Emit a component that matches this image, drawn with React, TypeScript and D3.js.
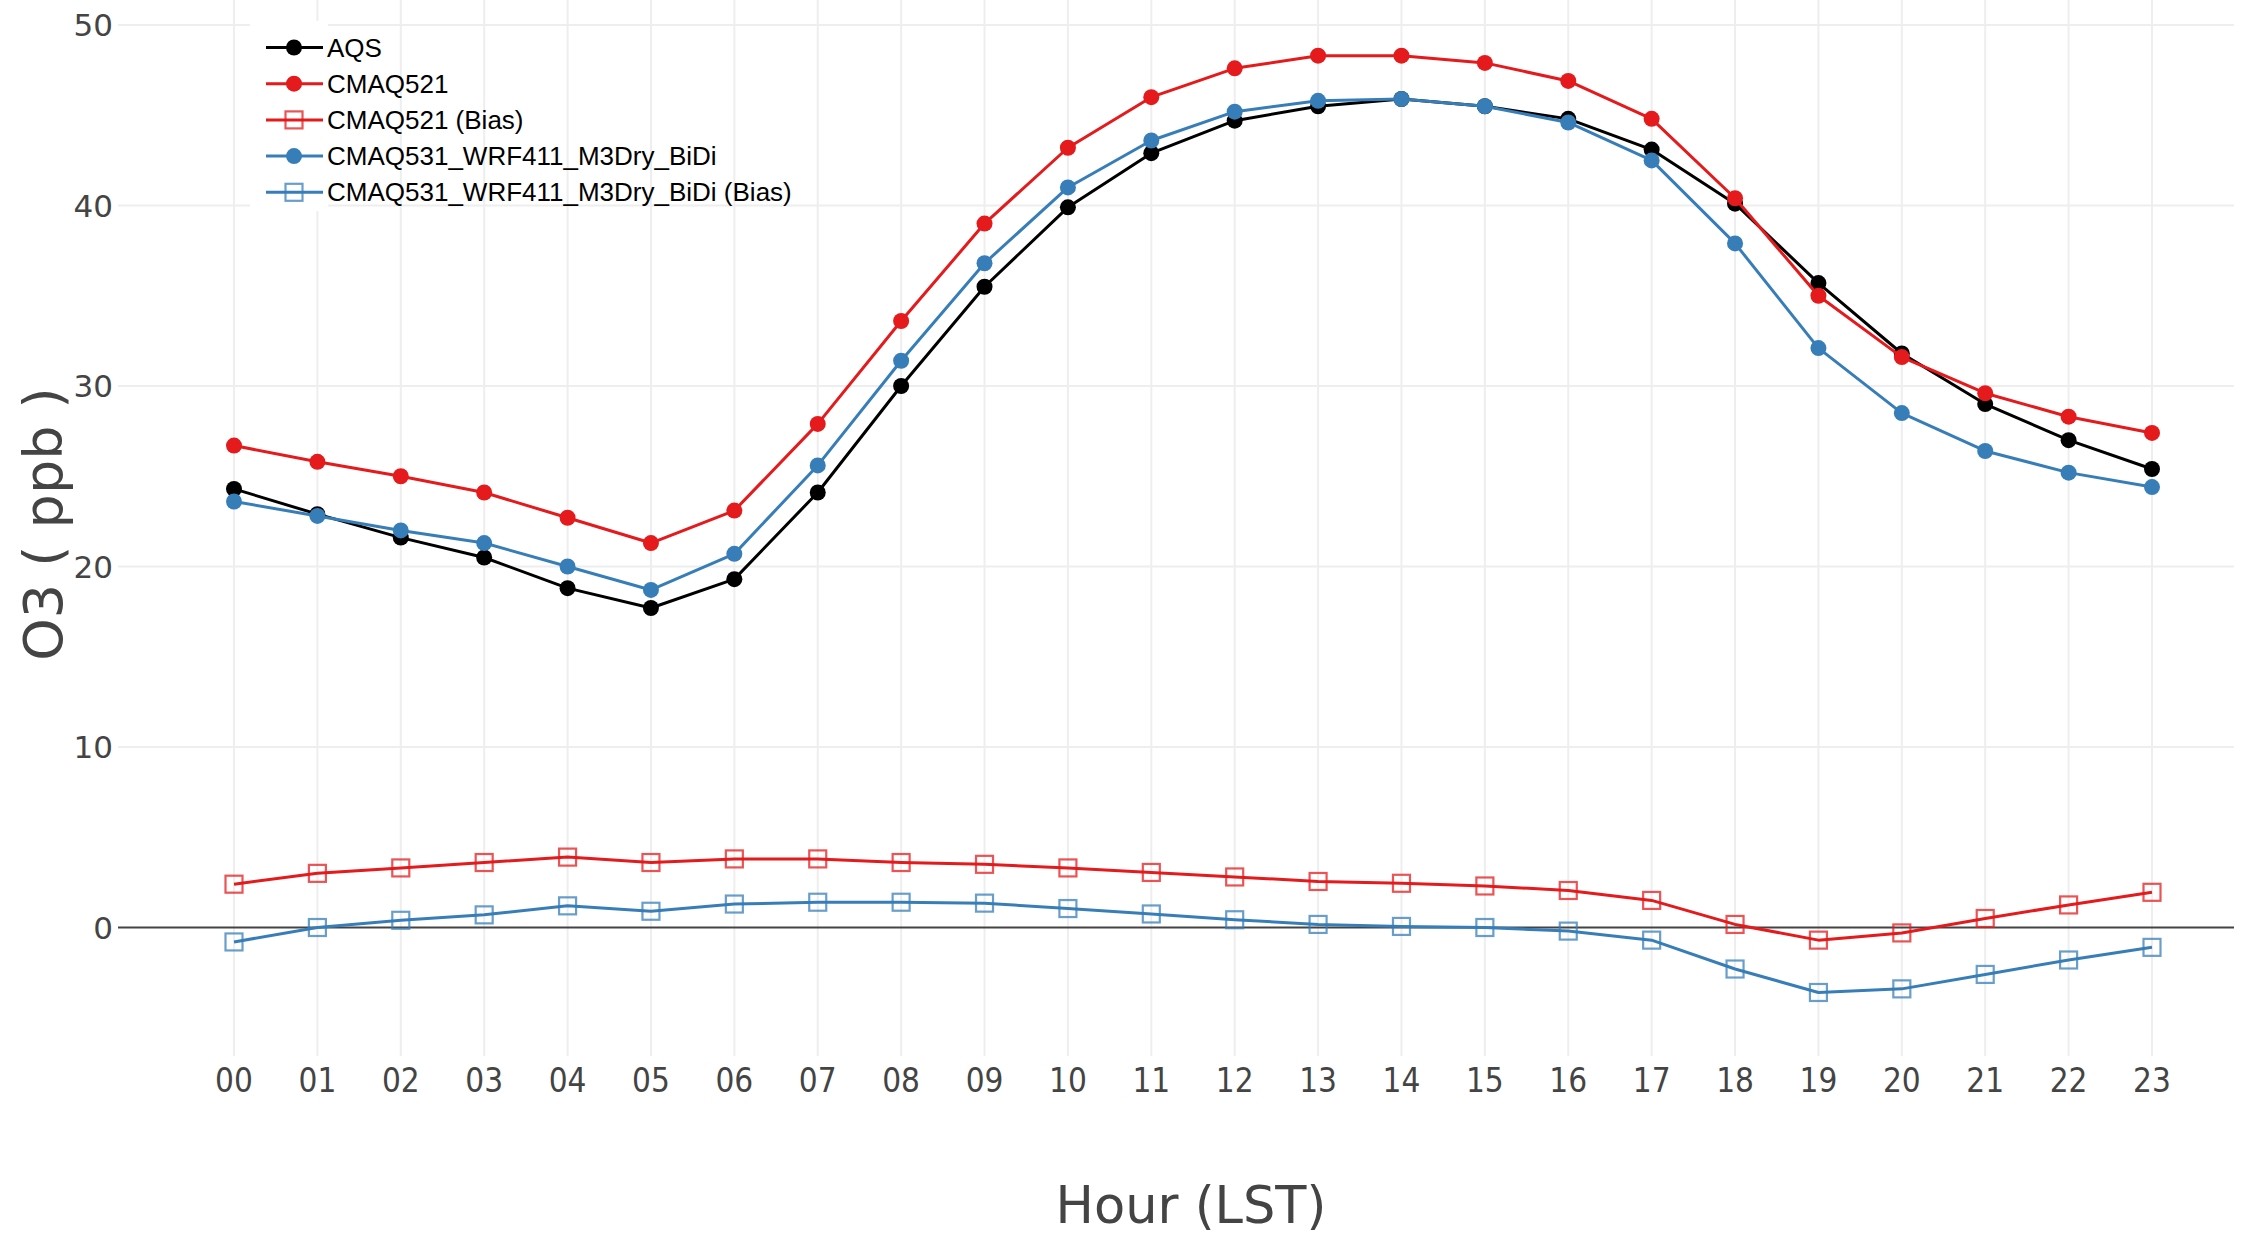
import React from "react";
import * as d3 from "d3";

const hours = ["00","01","02","03","04","05","06","07","08","09","10","11","12","13","14","15","16","17","18","19","20","21","22","23"];
const aqs = [24.3,22.9,21.6,20.5,18.8,17.7,19.3,24.1,30.0,35.5,39.9,42.9,44.7,45.5,45.9,45.5,44.8,43.1,40.1,35.7,31.8,29.0,27.0,25.4];
const cmaq521 = [26.7,25.8,25.0,24.1,22.7,21.3,23.1,27.9,33.6,39.0,43.2,46.0,47.6,48.3,48.3,47.9,46.9,44.8,40.4,35.0,31.6,29.6,28.3,27.4];
const cmaq521Bias = [2.4,3.0,3.3,3.6,3.9,3.6,3.8,3.8,3.6,3.5,3.3,3.05,2.8,2.55,2.45,2.3,2.05,1.5,0.17,-0.7,-0.3,0.5,1.25,1.95];
const cmaq531 = [23.6,22.8,22.0,21.3,20.0,18.7,20.7,25.6,31.4,36.8,41.0,43.6,45.2,45.8,45.9,45.5,44.6,42.5,37.9,32.1,28.5,26.4,25.2,24.4];
const cmaq531Bias = [-0.8,0.0,0.4,0.7,1.2,0.9,1.3,1.4,1.4,1.35,1.05,0.75,0.43,0.17,0.06,0.0,-0.2,-0.7,-2.3,-3.6,-3.4,-2.6,-1.8,-1.1];
const yTicks = [0,10,20,30,40,50];

const seriesNames = ["AQS","CMAQ521","CMAQ521 (Bias)","CMAQ531_WRF411_M3Dry_BiDi","CMAQ531_WRF411_M3Dry_BiDi (Bias)"];
const seriesData = [aqs, cmaq521, cmaq521Bias, cmaq531, cmaq531Bias];
const seriesColors = ["#000000","#e41a1c","#e41a1c","#377eb8","#377eb8"];
const seriesSymbols = ["circle","circle","square","circle","square"];

const W = 2250, H = 1233;
const plotLeft = 118, plotRight = 2234, plotTop = 0, plotBottom = 1056;

export default function App() {
  const x = d3.scaleLinear().domain([0, 23]).range([234, 2152]);
  const y = d3.scaleLinear().domain([0, 50]).range([927.5, 25]);
  const line = d3.line<number>().x((_, i) => x(i)).y(d => y(d));

  const renderMarker = (sym: string, color: string, cx: number, cy: number, key: any) =>
    sym === "circle" ? (
      <circle key={key} cx={cx} cy={cy} r={8} fill={color} />
    ) : (
      <rect key={key} x={cx - 8.5} y={cy - 8.5} width={17} height={17} fill="none" stroke={color} strokeOpacity={0.75} strokeWidth={2.2} />
    );

  const legendY = (k: number) => 47.5 + 36.2 * k;

  return (
    <svg width={W} height={H} style={{ position: "absolute", left: 0, top: 0, background: "#fff" }}>
      <rect x={0} y={0} width={W} height={H} fill="#fff" />
      {/* vertical grid */}
      {hours.map((h, i) => (
        <line key={"vg" + h} x1={x(i)} x2={x(i)} y1={plotTop} y2={plotBottom} stroke="#eeeeee" strokeWidth={2} />
      ))}
      {/* horizontal grid */}
      {yTicks.filter(t => t !== 0).map(t => (
        <line key={"hg" + t} x1={plotLeft} x2={plotRight} y1={y(t)} y2={y(t)} stroke="#eeeeee" strokeWidth={2} />
      ))}
      {/* legend background patch */}
      <rect x={250} y={21} width={78} height={190} fill="#fff" />
      {/* zero line */}
      <line x1={plotLeft} x2={plotRight} y1={y(0)} y2={y(0)} stroke="#444" strokeWidth={2} />
      {/* y tick labels */}
      {yTicks.map(t => (
        <text key={"yt" + t} x={113} y={y(t)} textAnchor="end" dominantBaseline="central"
          fontFamily="DejaVu Sans" fontSize={31} fill="#444">{t}</text>
      ))}
      {/* x tick labels */}
      {hours.map((h, i) => (
        <text key={"xt" + h} x={x(i)} y={1080} textAnchor="middle" dominantBaseline="central"
          fontFamily="DejaVu Sans Condensed" fontSize={33} fill="#444">{h}</text>
      ))}
      {/* series */}
      {seriesData.map((data, s) => (
        <g key={"s" + s}>
          <path d={line(data) || ""} fill="none" stroke={seriesColors[s]} strokeWidth={3} strokeLinejoin="round" />
          {data.map((v, i) => renderMarker(seriesSymbols[s], seriesColors[s], x(i), y(v), i))}
        </g>
      ))}
      {/* legend */}
      {seriesNames.map((name, k) => (
        <g key={"lg" + k}>
          <line x1={266} x2={323} y1={legendY(k)} y2={legendY(k)} stroke={seriesColors[k]} strokeWidth={3} />
          {renderMarker(seriesSymbols[k], seriesColors[k], 294, legendY(k), "m")}
          <text x={327} y={legendY(k)} dominantBaseline="central" fontFamily="Liberation Sans, Arial" fontSize={26} fill="#000">{name}</text>
        </g>
      ))}
      {/* axis titles */}
      <text x={1191} y={1205} textAnchor="middle" dominantBaseline="central" fontFamily="DejaVu Sans" fontSize={51} fill="#444">Hour (LST)</text>
      <text transform="translate(43,524) rotate(-90)" textAnchor="middle" dominantBaseline="central" fontFamily="DejaVu Sans" fontSize={54} fill="#444">O3 ( ppb )</text>
    </svg>
  );
}
